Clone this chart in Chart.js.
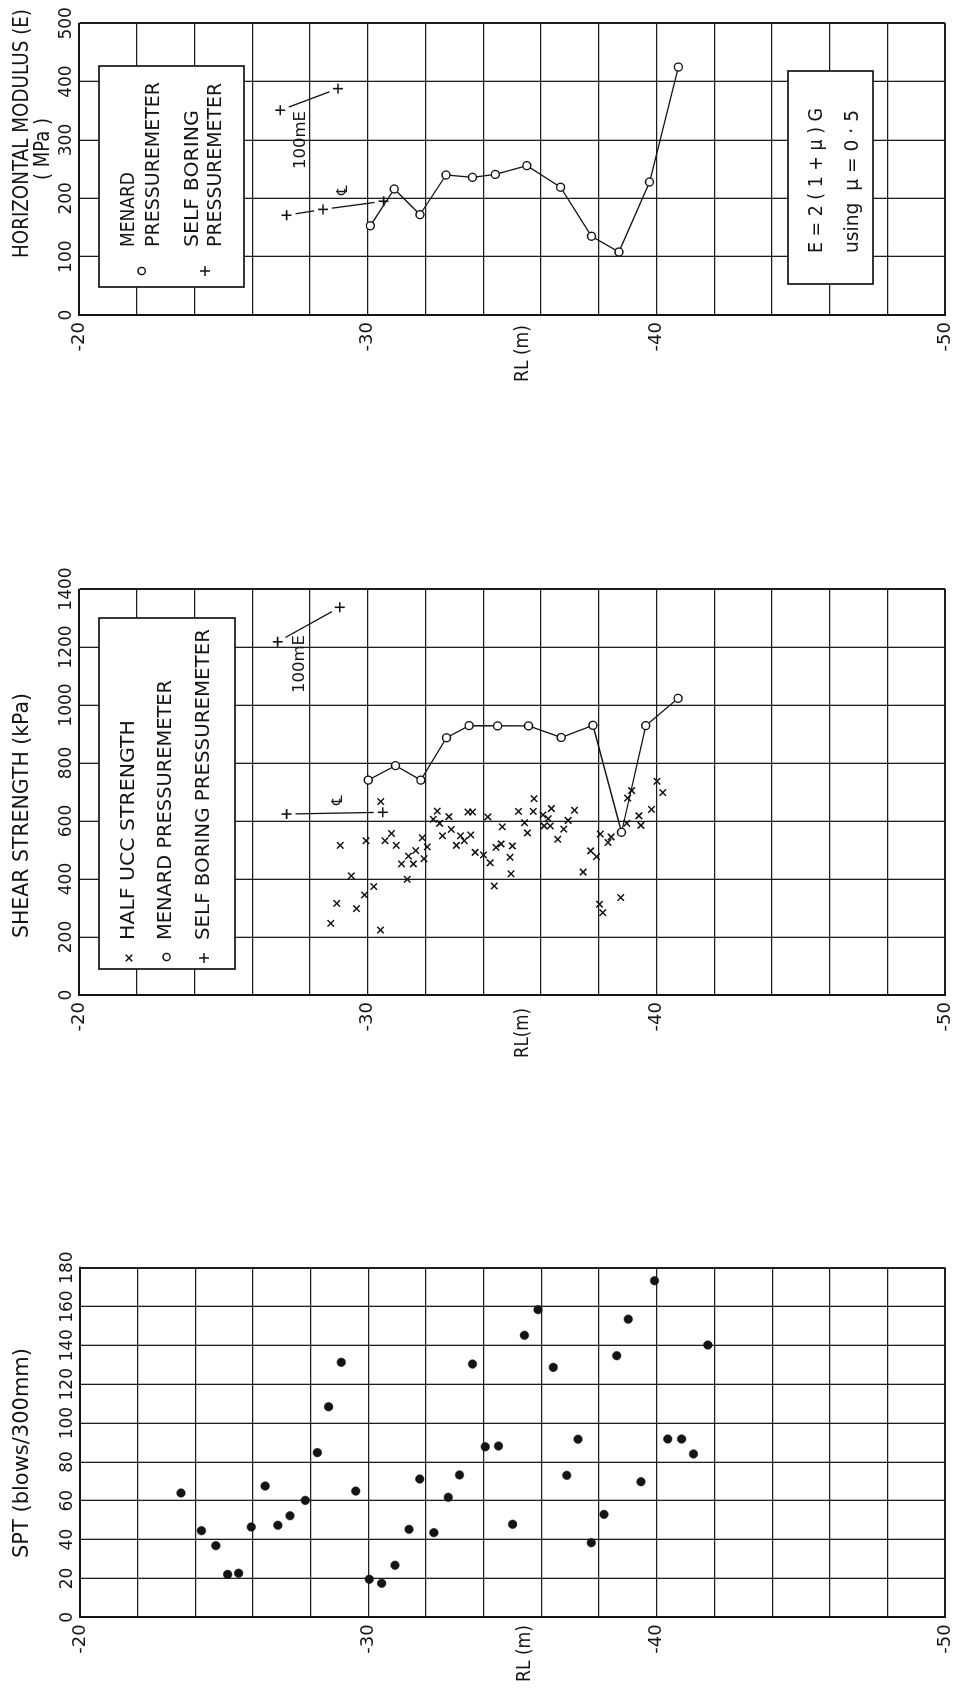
<!DOCTYPE html>
<html><head><meta charset="utf-8">
<script src="https://cdn.jsdelivr.net/npm/chart.js@4.4.1/dist/chart.umd.min.js"></script>
<style>
html,body{margin:0;padding:0;background:#fff;}
body{width:963px;height:1688px;position:relative;overflow:hidden;}
.band{position:absolute;left:0;width:963px;}
.band canvas{position:absolute;left:0;top:0;transform-origin:0 0;}
</style></head><body>
<div class="band" style="top:0;height:420px"><canvas id="c1" width="420" height="963" style="transform:translate(0px,420px) rotate(-90deg)"></canvas></div>
<div class="band" style="top:560px;height:520px"><canvas id="c2" width="520" height="963" style="transform:translate(0px,520px) rotate(-90deg)"></canvas></div>
<div class="band" style="top:1240px;height:448px"><canvas id="c3" width="448" height="963" style="transform:translate(0px,448px) rotate(-90deg)"></canvas></div>
<script>
// ---------------- DATA ----------------
// RL axis (m) and its labelled ticks
const rlMin = -50, rlMax = -20, rlStep = 2;
const rlTickLabels = [-20, -30, -40, -50];

// Panel 1: horizontal modulus E (MPa)
const modMax = 500, modStep = 100;
const modMenardRL = [-30.09, -30.92, -31.81, -32.71, -33.63, -34.42, -35.51, -36.68, -37.75, -38.70, -39.76, -40.76];
const modMenardE  = [153, 216, 172, 240, 236, 241, 256, 219, 135, 108, 228, 425];
const modSbpRL    = [-27.19, -28.45, -30.55];
const modSbpE     = [171, 181, 195];
const modSbp100RL = [-26.97, -28.97];
const modSbp100E  = [351, 388];

// Panel 2: shear strength (kPa)
const shrMax = 1400, shrStep = 200;
const shrUccRL = [-28.72,-28.93,-29.05,-29.43,-29.61,-29.89,-29.94,-30.21,-30.44,-30.45,
  -30.60,-30.82,-30.99,-31.17,-31.41,-31.37,-31.58,-31.66,-31.89,-31.95,
  -32.06,-32.27,-32.41,-32.49,-32.59,-32.81,-32.89,-33.07,-33.21,-33.34,
  -33.47,-33.63,-33.57,-33.72,-34.01,-34.16,-34.24,-34.38,-34.44,-34.62,
  -34.66,-34.93,-34.96,-35.01,-35.22,-35.43,-35.53,-35.73,-35.76,-36.07,
  -36.11,-36.25,-36.32,-36.36,-36.58,-36.79,-36.94,-37.16,-37.46,-37.72,
  -37.92,-38.05,-38.03,-38.14,-38.32,-38.43,-38.76,-38.97,-39.00,-39.14,
  -39.39,-39.46,-39.83,-40.02,-40.22];
const shrUccS = [247,316,516,411,298,345,532,374,224,667,
  532,557,516,452,479,399,452,498,542,470,
  511,606,634,592,549,615,571,516,549,532,
  631,631,552,492,483,614,456,376,509,521,
  580,475,418,514,633,594,559,633,677,621,
  583,608,583,643,537,572,602,637,424,497,
  477,555,313,284,526,545,336,592,679,705,
  618,585,640,737,698];
const shrMenardRL = [-30.02, -30.96, -31.84, -32.73, -33.51, -34.50, -35.57, -36.70, -37.80, -38.79, -39.63, -40.75];
const shrMenardS  = [741, 791, 741, 887, 929, 928, 928, 888, 930, 561, 929, 1023];
const shrSbpRL    = [-27.19, -30.52];
const shrSbpS     = [624, 630];
const shrSbp100RL = [-26.88, -29.03];
const shrSbp100S  = [1218, 1337];

// Panel 3: SPT (blows/300mm)
const sptMax = 180, sptStep = 20;
const sptRL = [-23.50,-24.21,-24.71,-25.12,-25.50,-25.94,-26.42,-26.86,-27.28,-27.81,
  -28.23,-28.62,-29.06,-29.56,-30.03,-30.46,-30.92,-31.41,-31.78,-32.27,
  -32.77,-33.16,-33.61,-34.05,-34.51,-35.00,-35.41,-35.88,-36.41,-36.88,
  -37.27,-37.73,-38.17,-38.61,-39.01,-39.45,-39.92,-40.38,-40.86,-41.27,-41.77];
const sptN = [64.0,44.6,36.9,22.1,22.7,46.5,67.6,47.4,52.3,60.2,
  84.8,108.4,131.3,65.0,19.6,17.5,26.8,45.3,71.2,43.6,
  61.8,73.3,130.4,87.8,88.2,47.9,145.2,158.4,128.7,73.1,
  91.7,38.4,53.0,134.7,153.5,69.8,173.3,91.8,91.8,84.1,140.2];

// ---------------- STYLE / HELPERS ----------------
const INK = '#141414';
const TEXT_FONT = "'DejaVu Sans', 'Liberation Sans', sans-serif";
function pts(vals, rls) { return vals.map((v, i) => ({ x: v, y: rls[i] })); }

function fitText(ctx, text, x, y, w, size, center) {
  ctx.font = size + 'px ' + TEXT_FONT;
  const m = ctx.measureText(text).width || 1;
  const s = w ? w / m : 1;
  const width = m * s;
  ctx.save();
  ctx.translate(center ? x - width / 2 : x, y);
  ctx.scale(s, 1);
  ctx.textAlign = 'left';
  ctx.textBaseline = 'middle';
  ctx.fillStyle = INK;
  ctx.fillText(text, 0, 0);
  ctx.restore();
}
function drawSymbol(ctx, type, x, y) {
  ctx.save();
  ctx.strokeStyle = INK; ctx.lineWidth = 1.5;
  ctx.beginPath();
  if (type === 'circle') {
    ctx.fillStyle = '#fff';
    ctx.arc(x, y, 3.6, 0, Math.PI * 2); ctx.fill(); ctx.stroke();
  } else if (type === 'plus') {
    ctx.moveTo(x - 5, y); ctx.lineTo(x + 5, y); ctx.moveTo(x, y - 5); ctx.lineTo(x, y + 5); ctx.stroke();
  } else {
    ctx.moveTo(x - 3.3, y - 3.3); ctx.lineTo(x + 3.3, y + 3.3); ctx.moveTo(x + 3.3, y - 3.3); ctx.lineTo(x - 3.3, y + 3.3); ctx.stroke();
  }
  ctx.restore();
}

const DECOR = {};
const decorPlugin = {
  id: 'decor',
  afterDatasetsDraw(chart) {
    const d = DECOR[chart.canvas.id];
    if (!d) return;
    const ctx = chart.ctx, xs = chart.scales.x, ys = chart.scales.y;
    ctx.save();
    // connecting lines between self-boring pressuremeter points (gap at markers)
    ctx.strokeStyle = INK; ctx.lineWidth = 1.3;
    (d.connectors || []).forEach(c => {
      for (let i = 0; i < c.rl.length - 1; i++) {
        const x0 = xs.getPixelForValue(c.v[i]), y0 = ys.getPixelForValue(c.rl[i]);
        const x1 = xs.getPixelForValue(c.v[i + 1]), y1 = ys.getPixelForValue(c.rl[i + 1]);
        const dx = x1 - x0, dy = y1 - y0, L = Math.hypot(dx, dy), g = 9;
        ctx.beginPath();
        ctx.moveTo(x0 + dx * g / L, y0 + dy * g / L);
        ctx.lineTo(x1 - dx * g / L, y1 - dy * g / L);
        ctx.stroke();
      }
    });
    // boxes (legend / note)
    (d.boxes || []).forEach(b => {
      ctx.fillStyle = '#fff';
      ctx.fillRect(b.x0, b.y0, b.x1 - b.x0, b.y1 - b.y0);
      ctx.lineWidth = 1.7; ctx.strokeStyle = INK;
      ctx.strokeRect(b.x0, b.y0, b.x1 - b.x0, b.y1 - b.y0);
    });
    (d.texts || []).forEach(t => fitText(ctx, t.text, t.x, t.y, t.w, t.size, t.center));
    (d.symbols || []).forEach(s => drawSymbol(ctx, s.type, s.x, s.y));
    (d.dataTexts || []).forEach(t => {
      const px = xs.getPixelForValue(t.v), py = ys.getPixelForValue(t.rl);
      fitText(ctx, t.text, px, py, t.w, t.size, true);
    });
    ctx.restore();
  }
};

function makeChart(id, o) {
  const gridColor = '#1e1e1e';
  return new Chart(document.getElementById(id), {
    type: 'scatter',
    data: { datasets: o.datasets },
    options: {
      responsive: false,
      animation: false,
      devicePixelRatio: 1,
      layout: { padding: { left: 0, top: 0, right: o.padRight, bottom: o.padBottom } },
      plugins: { legend: { display: false }, tooltip: { enabled: false } },
      scales: {
        x: {
          type: 'linear', position: 'top', min: 0, max: o.vmax,
          ticks: { stepSize: o.vstep, padding: 2, color: INK, autoSkip: false, maxRotation: 0,
                   font: { family: TEXT_FONT, size: 17 },
                   callback: v => String(v) },
          grid: { color: gridColor, drawTicks: false,
                  lineWidth: c => (c.tick && c.tick.value === o.vmax) ? 2 : 1.3 },
          border: { color: INK, width: 2 },
          afterFit: s => { s.height = o.top; }
        },
        y: {
          type: 'linear', position: 'left', min: rlMin, max: rlMax,
          ticks: { stepSize: rlStep, padding: 7, color: INK, autoSkip: false,
                   font: { family: TEXT_FONT, size: 18 },
                   callback: v => rlTickLabels.includes(Math.round(v)) && Math.abs(v - Math.round(v)) < 1e-6 ? String(Math.round(v)) : '' },
          grid: { color: gridColor, drawTicks: false,
                  lineWidth: c => (c.tick && Math.round(c.tick.value) === rlMin) ? 2 : 1.3 },
          border: { color: INK, width: 2 },
          afterFit: s => { s.width = o.left; }
        }
      }
    },
    plugins: [decorPlugin]
  });
}

const menardStyle = { showLine: true, borderColor: INK, borderWidth: 1.3, pointStyle: 'circle',
  pointRadius: 4, pointBackgroundColor: '#fff', pointBorderColor: INK, pointBorderWidth: 1.4, order: 0 };
const sbpStyle = { showLine: false, pointStyle: 'cross', pointRadius: 5, borderColor: INK,
  pointBorderColor: INK, pointBorderWidth: 1.6, order: 1 };

// ---------------- PANEL 1 ----------------
DECOR.c1 = {
  boxes: [{ x0: 133, y0: 99, x1: 354, y1: 244 }, { x0: 136, y0: 788, x1: 349, y1: 873 }],
  texts: [
    { text: 'HORIZONTAL MODULUS (E)', x: 162, y: 22.5, w: 249, size: 22 },
    { text: '( MPa )', x: 240, y: 43, w: 62, size: 22 },
    { text: 'RL (m)', x: 38, y: 523, w: 57, size: 20 },
    { text: 'MENARD', x: 173, y: 129, w: 75, size: 20 },
    { text: 'PRESSUREMETER', x: 173, y: 154, w: 165, size: 20 },
    { text: 'SELF BORING', x: 173, y: 192.5, w: 137, size: 20 },
    { text: 'PRESSUREMETER', x: 173, y: 215.5, w: 164, size: 20 },
    { text: 'E = 2 ( 1 + μ ) G', x: 167, y: 816.7, w: 145, size: 20 },
    { text: 'using  μ = 0 · 5', x: 167, y: 853, w: 143, size: 20 }
  ],
  symbols: [{ type: 'circle', x: 149, y: 141.7 }, { type: 'plus', x: 149, y: 205 }],
  dataTexts: [
    { text: '100mE', rl: -27.68, v: 300, w: 58, size: 15 },
    { text: '℄', rl: -29.14, v: 214, size: 15 }
  ],
  connectors: [{ rl: modSbpRL, v: modSbpE }, { rl: modSbp100RL, v: modSbp100E }]
};
makeChart('c1', {
  vmax: modMax, vstep: modStep, left: 105, top: 79, padRight: 23.3, padBottom: 11,
  datasets: [
    Object.assign({ label: 'MENARD PRESSUREMETER', data: pts(modMenardE, modMenardRL) }, menardStyle),
    Object.assign({ label: 'SELF BORING PRESSUREMETER', data: pts(modSbpE, modSbpRL) }, sbpStyle),
    Object.assign({ label: 'SELF BORING PRESSUREMETER (100mE)', data: pts(modSbp100E, modSbp100RL) }, sbpStyle)
  ]
});

// ---------------- PANEL 2 ----------------
DECOR.c2 = {
  boxes: [{ x0: 111, y0: 99, x1: 462, y1: 235 }],
  texts: [
    { text: 'SHEAR STRENGTH (kPa)', x: 142, y: 22, w: 245, size: 22 },
    { text: 'RL(m)', x: 22, y: 522.5, w: 50, size: 20 },
    { text: 'HALF UCC STRENGTH', x: 140, y: 129, w: 220, size: 20 },
    { text: 'MENARD PRESSUREMETER', x: 140, y: 165.8, w: 260, size: 20 },
    { text: 'SELF BORING PRESSUREMETER', x: 140, y: 204, w: 311, size: 20 }
  ],
  symbols: [{ type: 'x', x: 122, y: 129 }, { type: 'circle', x: 123, y: 166.5 }, { type: 'plus', x: 122, y: 204 }],
  dataTexts: [
    { text: '100mE', rl: -27.65, v: 1141, w: 58, size: 15 },
    { text: '℄', rl: -28.97, v: 672, size: 15 }
  ],
  connectors: [{ rl: shrSbpRL, v: shrSbpS }, { rl: shrSbp100RL, v: shrSbp100S }]
};
makeChart('c2', {
  vmax: shrMax, vstep: shrStep, left: 85, top: 79, padRight: 29, padBottom: 11,
  datasets: [
    Object.assign({ label: 'MENARD PRESSUREMETER', data: pts(shrMenardS, shrMenardRL) }, menardStyle),
    Object.assign({ label: 'SELF BORING PRESSUREMETER', data: pts(shrSbpS, shrSbpRL) }, sbpStyle),
    Object.assign({ label: 'SELF BORING PRESSUREMETER (100mE)', data: pts(shrSbp100S, shrSbp100RL) }, sbpStyle),
    { label: 'HALF UCC STRENGTH', data: pts(shrUccS, shrUccRL), showLine: false, pointStyle: 'crossRot',
      pointRadius: 4.6, borderColor: INK, pointBorderColor: INK, pointBorderWidth: 1.5, order: 2 }
  ]
});

// ---------------- PANEL 3 ----------------
DECOR.c3 = {
  texts: [
    { text: 'SPT (blows/300mm)', x: 130, y: 22.5, w: 210, size: 22 },
    { text: 'RL (m)', x: 6, y: 524.5, w: 57, size: 20 }
  ]
};
makeChart('c3', {
  vmax: sptMax, vstep: sptStep, left: 70.7, top: 80, padRight: 27.7, padBottom: 11,
  datasets: [
    { label: 'SPT', data: pts(sptN, sptRL), showLine: false, pointStyle: 'circle', pointRadius: 4.3,
      pointBackgroundColor: INK, pointBorderColor: INK, pointBorderWidth: 0.5 }
  ]
});
</script>
</body></html>
